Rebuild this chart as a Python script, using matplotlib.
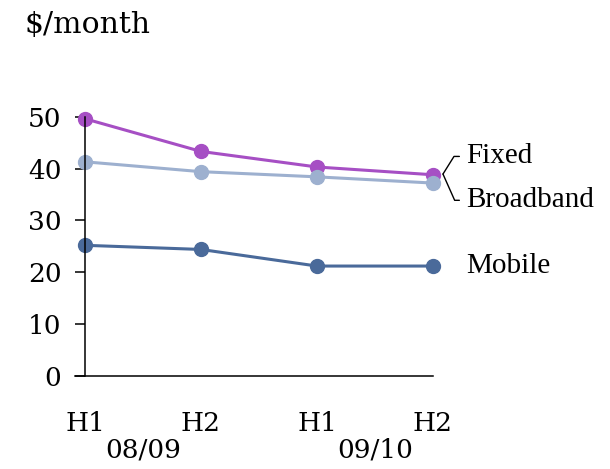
import matplotlib.pyplot as plt
from matplotlib.transforms import blended_transform_factory, offset_copy

periods = ["H1", "H2", "H1", "H2"]
years = ["08/09", "09/10"]
fixed = [49.6, 43.3, 40.3, 38.8]
broadband = [41.3, 39.4, 38.4, 37.2]
mobile = [25.2, 24.4, 21.2, 21.2]

C_FIXED = "#a64fc4"
C_BB = "#9db0cf"
C_MOBILE = "#4a6a9a"

TICK_FONT = "DejaVu Serif"
LABEL_FONT = "Liberation Serif"


def main():
    fig = plt.figure(figsize=(6.1, 4.69), dpi=100)
    ax = fig.add_axes([0.1393, 0.1983, 0.5705, 0.5529])

    x = list(range(len(periods)))
    style = dict(lw=2.2, marker="o", ms=10, clip_on=False)
    ax.plot(x, mobile, color=C_MOBILE, **style)
    ax.plot(x, fixed, color=C_FIXED, **style)
    ax.plot(x, broadband, color=C_BB, **style)

    ax.set_xlim(0, 3)
    ax.set_ylim(0, 50)
    ax.set_yticks([0, 10, 20, 30, 40, 50])
    ax.set_xticks(x, periods)
    for s in ("top", "right"):
        ax.spines[s].set_visible(False)
    for s in ("left", "bottom"):
        ax.spines[s].set_linewidth(1.1)
    ax.tick_params(axis="y", direction="out", length=7, width=1.1, pad=10,
                   labelsize=19)
    ax.tick_params(axis="x", length=0, pad=25, labelsize=19)
    for lab in ax.get_xticklabels() + ax.get_yticklabels():
        lab.set_fontfamily(TICK_FONT)
    # x-axis line runs a little left of the y axis, as in the original
    ax.spines["bottom"].set_bounds(-0.087, 3)
    ax.spines["bottom"].set_clip_on(False)

    trans = blended_transform_factory(ax.transData, ax.transAxes)
    for i, yr in enumerate(years):
        xc = (x[2 * i] + x[2 * i + 1]) / 2
        ax.text(xc, -0.285, yr, transform=trans, ha="center", va="center",
                fontsize=19, family=TICK_FONT)

    fig.text(25 / 610, 1 - 25 / 469, "$/month", ha="left", va="center",
             fontsize=21.5, family=TICK_FONT)

    # bracket vertex sits just right of the last Fixed/Broadband markers
    mid = (fixed[-1] + broadband[-1]) / 2
    vertex = offset_copy(ax.transData, fig=fig, x=7.2, y=3.5, units="points")
    for name, dy, angle in (("Fixed", 12.7, 58), ("Broadband", -18.9, -66)):
        ax.annotate(name, xy=(x[-1], mid), xycoords=vertex,
                    xytext=(16.8, dy), textcoords="offset points",
                    ha="left", va="center", fontsize=21, family=LABEL_FONT,
                    annotation_clip=False,
                    arrowprops=dict(arrowstyle="-", color="black", lw=1,
                                    relpos=(0, 0.5), shrinkA=5, shrinkB=0,
                                    patchA=None,
                                    connectionstyle=f"angle,angleA=0,angleB={angle},rad=0"))
    ax.annotate("Mobile", xy=(x[-1], mobile[-1]), xytext=(24, 0),
                textcoords="offset points", ha="left", va="center",
                fontsize=21, family=LABEL_FONT, annotation_clip=False)

    fig.savefig("out.png", dpi=100)


if __name__ == "__main__":
    main()
